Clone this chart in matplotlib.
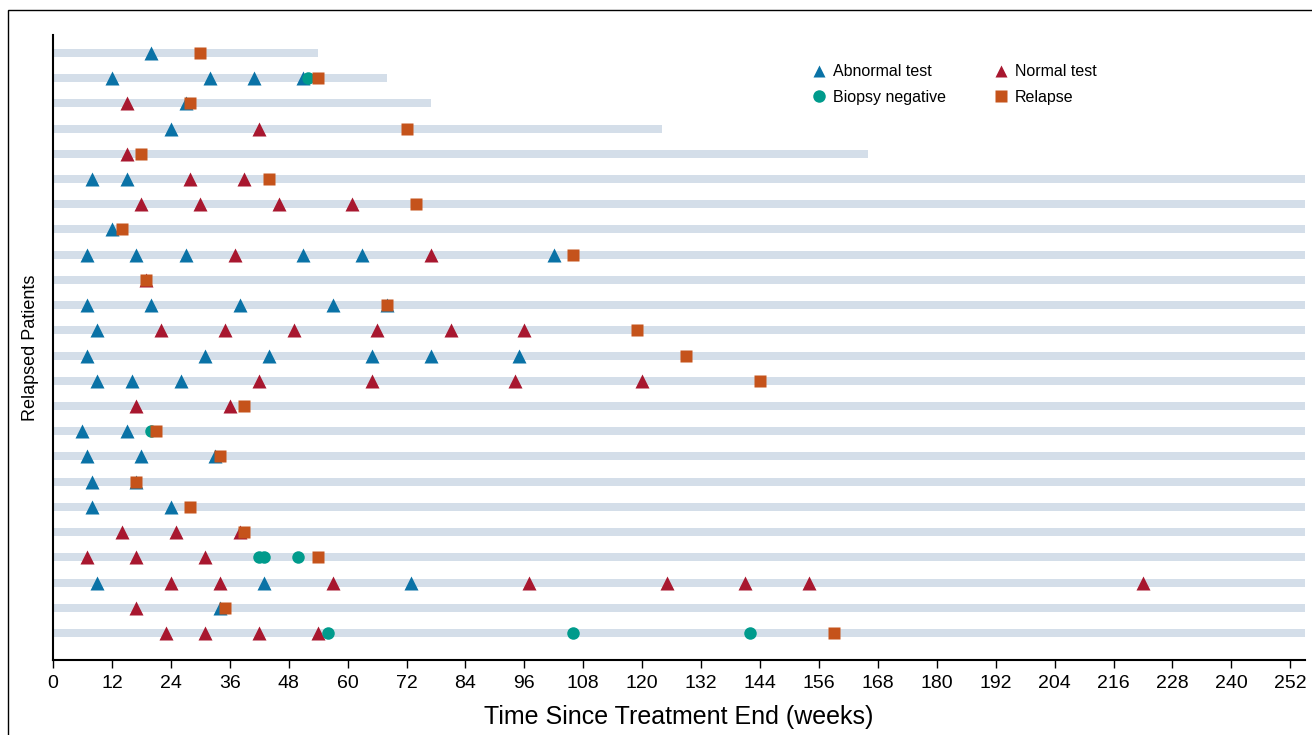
import matplotlib
matplotlib.use('Agg')
import matplotlib.pyplot as plt
from matplotlib.lines import Line2D
from matplotlib.patches import Rectangle

# one entry per relapsed patient, top row first
abnormal = [[20], [12, 32, 41, 51], [27], [24], [], [8, 15], [], [12],
            [7, 17, 27, 51, 63, 102], [], [7, 20, 38, 57, 68], [9],
            [7, 31, 44, 65, 77, 95], [9, 16, 26], [], [6, 15], [7, 18, 33],
            [8, 17], [8, 24], [], [], [9, 43, 73], [34], []]
normal = [[], [], [15], [42], [15], [28, 39], [18, 30, 46, 61], [],
          [37, 77], [19], [], [22, 35, 49, 66, 81, 96], [], [42, 65, 94, 120],
          [17, 36], [], [], [], [], [14, 25, 38], [7, 17, 31],
          [24, 34, 57, 97, 125, 141, 154, 222], [17], [23, 31, 42, 54]]
biopsy = [[], [52], [], [], [], [], [], [], [], [], [], [], [], [], [], [20],
          [], [], [], [], [42, 43, 50], [], [], [56, 106, 142]]
relapse = [30, 54, 28, 72, 18, 44, 74, 14, 106, 19, 68, 119, 129, 144, 39,
           21, 34, 17, 28, 39, 54, None, 35, 159]
followup = [54, 68, 77, 124, 166] + [255] * 19

c_abn = '#0a72a6'
c_norm = '#a8172f'
c_bio = '#009b8c'
c_rel = '#c5531b'
c_bar = '#d4dee9'

plt.rcParams['font.family'] = ['Liberation Sans Narrow', 'Liberation Sans', 'DejaVu Sans']

fig = plt.figure(figsize=(13.12, 7.35), dpi=100)
ax = fig.add_axes([53 / 1312, 1 - 660 / 735, (1305 - 53) / 1312, 625 / 735])

n = len(followup)
ys = [n - i for i in range(n)]

ax.barh(ys, followup, height=0.32, color=c_bar, left=0, zorder=1)

for y, a, b, c, r in zip(ys, abnormal, normal, biopsy, relapse):
    ax.plot(a, [y] * len(a), '^', color=c_abn, ms=9.5, mec='none', zorder=3)
    ax.plot(b, [y] * len(b), '^', color=c_norm, ms=9.5, mec='none', zorder=3)
    ax.plot(c, [y] * len(c), 'o', color=c_bio, ms=9, mec='none', zorder=4)
    if r is not None:
        ax.plot([r], [y], 's', color=c_rel, ms=8, mec='none', zorder=5)

ax.set_xlim(0, 255)
ax.set_ylim(-0.07, 24.71)
ax.set_xticks(range(0, 253, 12))
ax.set_yticks([])
ax.tick_params(axis='x', direction='out', length=6, width=1, labelsize=14, pad=5)
for s in ['top', 'right']:
    ax.spines[s].set_visible(False)
ax.spines['left'].set_linewidth(1.5)
ax.spines['bottom'].set_linewidth(1.5)
ax.set_xlabel('Time Since Treatment End (weeks)', fontsize=18, labelpad=9)
ax.set_ylabel('Relapsed Patients', fontsize=13, family=['Liberation Sans', 'DejaVu Sans'],
              labelpad=10)

handles = [
    Line2D([], [], marker='^', ls='none', color=c_abn, ms=9, mec='none', label='Abnormal test'),
    Line2D([], [], marker='o', ls='none', color=c_bio, ms=9, mec='none', label='Biopsy negative'),
    Line2D([], [], marker='^', ls='none', color=c_norm, ms=9, mec='none', label='Normal test'),
    Line2D([], [], marker='s', ls='none', color=c_rel, ms=8, mec='none', label='Relapse'),
]
fig.legend(handles=handles, ncol=2, loc='upper left', bbox_to_anchor=(795 / 1312, 1 - 50 / 735),
           frameon=False, prop={'family': ['Liberation Sans', 'DejaVu Sans'], 'size': 11.5},
           handletextpad=0.3, columnspacing=2.8, labelspacing=0.65, handlelength=1.2)

fig.patches.append(Rectangle((8 / 1312, -0.1), 1.2, 1.1 - 10 / 735,
                             transform=fig.transFigure, fill=False, ec='black', lw=1))

fig.savefig('out.png', dpi=100)
